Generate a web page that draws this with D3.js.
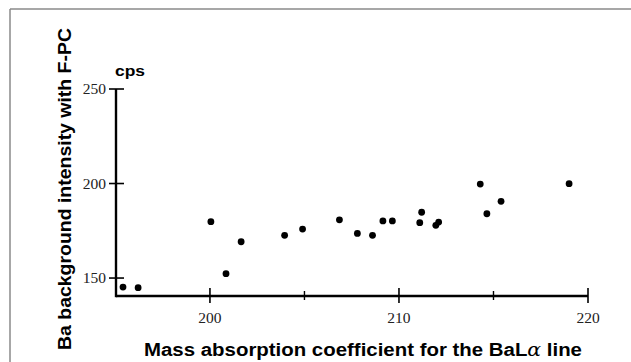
<!DOCTYPE html>
<html>
<head>
<meta charset="utf-8">
<script src="https://cdn.jsdelivr.net/npm/d3@7/dist/d3.min.js"></script>
<style>
  html, body { margin: 0; padding: 0; background: #fff; }
  svg { display: block; }
</style>
</head>
<body>
<svg id="chart" width="631" height="362"></svg>
<script>
// Data
const massAbsorption = [195.4, 196.2, 200.05, 200.85, 201.65, 203.95, 204.9, 206.85, 207.8, 208.6,
                        209.15, 209.65, 211.1, 211.2, 211.95, 212.1, 214.3, 214.65, 215.4, 219.0];
const bgIntensity    = [145.2, 144.9, 179.8, 152.3, 169.2, 172.6, 175.9, 180.8, 173.6, 172.6,
                        180.2, 180.2, 179.3, 184.8, 177.9, 179.6, 199.7, 184.0, 190.6, 199.9];
const xMajorTicks = [200, 210, 220];
const xMinorTicks = [205, 215];
const yTicks = [150, 200, 250];
const xTitle = "Mass absorption coefficient for the BaL";
const xTitleGreek = "\u03B1";
const xTitleEnd = " line";
const yTitle = "Ba background intensity with F-PC";
const yUnit = "cps";

const svg = d3.select("#chart");

// frame lines (top and left)
svg.append("line").attr("x1", 10).attr("x2", 631).attr("y1", 9).attr("y2", 9)
  .attr("stroke", "#8a8a8a").attr("stroke-width", 1.5);
svg.append("line").attr("x1", 10).attr("x2", 10).attr("y1", 9).attr("y2", 362)
  .attr("stroke", "#8a8a8a").attr("stroke-width", 1.5);

const x = d3.scaleLinear().domain([195.03, 220]).range([116, 588]);
const y = d3.scaleLinear().domain([140.5, 250]).range([296, 89]);

// axes lines
const axisG = svg.append("g");
axisG.append("line").attr("x1", x.range()[0]).attr("x2", x.range()[1])
  .attr("y1", y(y.domain()[0])).attr("y2", y(y.domain()[0]))
  .attr("stroke", "#000").attr("stroke-width", 2.4);
axisG.append("line").attr("x1", x(x.domain()[0])).attr("x2", x(x.domain()[0]))
  .attr("y1", y(y.domain()[0]) + 1.2).attr("y2", y(250))
  .attr("stroke", "#000").attr("stroke-width", 2.4);

const y0 = y(y.domain()[0]);
// x major ticks crossing axis
axisG.selectAll(".xmaj").data(xMajorTicks).enter().append("line")
  .attr("x1", d => x(d)).attr("x2", d => x(d))
  .attr("y1", y0 - 8).attr("y2", y0 + 7)
  .attr("stroke", "#000").attr("stroke-width", 1.6);
axisG.selectAll(".xmin").data(xMinorTicks).enter().append("line")
  .attr("x1", d => x(d)).attr("x2", d => x(d))
  .attr("y1", y0 - 5).attr("y2", y0 + 4)
  .attr("stroke", "#000").attr("stroke-width", 1.4);
axisG.selectAll(".xlab").data(xMajorTicks).enter().append("text")
  .attr("x", d => x(d)).attr("y", 323)
  .attr("text-anchor", "middle")
  .attr("font-family", "Liberation Serif, Times New Roman, serif")
  .attr("font-size", 15.5).attr("fill", "#222")
  .text(d => d);

// y ticks
const x0 = x(x.domain()[0]);
axisG.selectAll(".ytick").data(yTicks).enter().append("line")
  .attr("x1", x0 - 7).attr("x2", x0 + 8)
  .attr("y1", d => y(d)).attr("y2", d => y(d))
  .attr("stroke", "#000").attr("stroke-width", 1.6);
axisG.selectAll(".ylab").data(yTicks).enter().append("text")
  .attr("x", 106).attr("y", d => y(d) + 5)
  .attr("text-anchor", "end")
  .attr("font-family", "Liberation Serif, Times New Roman, serif")
  .attr("font-size", 15.5).attr("fill", "#222")
  .text(d => d);

// unit label
svg.append("text").attr("x", 115).attr("y", 76)
  .attr("font-family", "Liberation Sans, Arial, sans-serif")
  .attr("font-weight", "bold").attr("font-size", 15)
  .attr("textLength", 30).attr("lengthAdjust", "spacingAndGlyphs")
  .text(yUnit);

// points
svg.append("g").selectAll("circle")
  .data(massAbsorption.map((d, i) => [d, bgIntensity[i]]))
  .enter().append("circle")
  .attr("cx", d => x(d[0])).attr("cy", d => y(d[1]))
  .attr("r", 3.4).attr("fill", "#000");

// x title
const xt = svg.append("text").attr("x", 144).attr("y", 356)
  .attr("font-family", "Liberation Sans, Arial, sans-serif")
  .attr("font-weight", "bold").attr("font-size", 18)
  .attr("textLength", 438).attr("lengthAdjust", "spacingAndGlyphs");
xt.append("tspan").text(xTitle);
xt.append("tspan").attr("font-family", "DejaVu Serif, serif").attr("font-style", "italic")
  .attr("font-weight", "normal").text(xTitleGreek);
xt.append("tspan").text(xTitleEnd);

// y title
svg.append("text")
  .attr("transform", "translate(71,350) rotate(-90)")
  .attr("font-family", "Liberation Sans, Arial, sans-serif")
  .attr("font-weight", "bold").attr("font-size", 18)
  .attr("textLength", 322).attr("lengthAdjust", "spacingAndGlyphs")
  .text(yTitle);
</script>
</body>
</html>
